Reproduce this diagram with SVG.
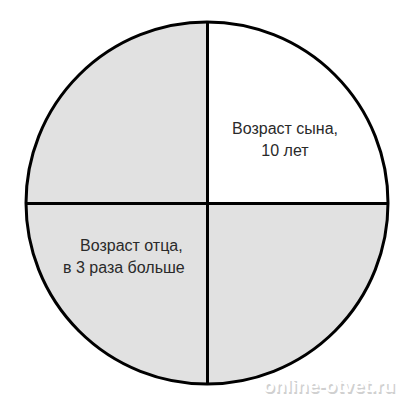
<svg xmlns="http://www.w3.org/2000/svg" width="407" height="400" viewBox="0 0 407 400">
<style>
.lbl{font-family:"Liberation Sans",Arial,sans-serif;font-size:16px;fill:#2a2a2a}
.ln{stroke:#000;stroke-width:3;fill:none}
.wm{font-family:"Liberation Sans",Arial,sans-serif;font-weight:bold;font-size:19px;fill:#fff}
</style>
<rect width="407" height="400" fill="#fff"/>
<g id="pie">
<circle cx="207" cy="203" r="181" fill="#e1e1e1"/>
<path d="M207,203 L207,22 A181,181 0 0 1 388,203 Z" fill="#fff"/>
<circle cx="207" cy="203" r="181" class="ln"/>
</g>
<g id="connectors">
<line x1="207.5" y1="22" x2="207.5" y2="384" class="ln"/>
<line x1="26" y1="203.5" x2="388" y2="203.5" class="ln"/>
</g>
<g id="son">
<text class="lbl" x="285" y="134" text-anchor="middle">Возраст сына,</text>
<text class="lbl" x="285" y="156" text-anchor="middle">10 лет</text>
</g>
<g id="father">
<text class="lbl" x="80" y="251">Возраст отца,</text>
<text class="lbl" x="63" y="273">в 3 раза больше</text>
</g>
<g id="watermark">
<text class="wm" x="263" y="392" style="fill:#d0d0d0" transform="translate(1.5,1.5)">online-otvet.ru</text>
<text class="wm" x="263" y="392">online-otvet.ru</text>
</g>
</svg>
